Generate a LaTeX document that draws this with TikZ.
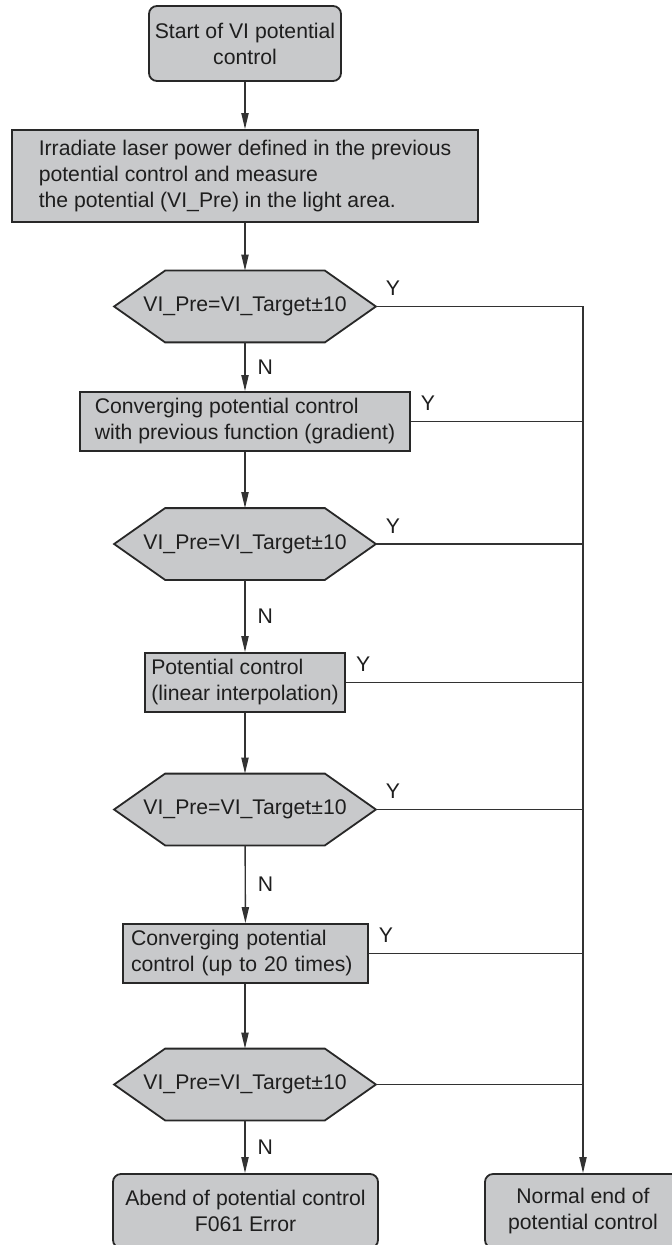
\documentclass[tikz,border=0pt]{standalone}
\usepackage{fontspec}
\setmainfont{Liberation Sans}
\usetikzlibrary{arrows.meta,backgrounds,calc}
\definecolor{boxfill}{RGB}{200,201,203}
\definecolor{edgec}{RGB}{40,40,40}
\definecolor{linec}{RGB}{50,50,50}
\definecolor{txt}{RGB}{30,30,30}
\begin{document}
\begin{tikzpicture}[x=0.5pt,y=-0.5pt,
  every node/.style={font=\fontsize{10.6}{13}\selectfont, text=txt},
  boxnode/.style={draw=edgec, fill=boxfill, line width=0.9pt, inner ysep=0pt, minimum height=29.5pt, align=left},
  endnode/.style={boxnode, rounded corners=4pt, align=center, inner xsep=0pt},
  hexnode/.style={minimum width=130.5pt, minimum height=35.5pt, inner sep=0pt},
  hexshape/.style={draw=edgec, fill=boxfill, line width=0.9pt, line join=miter},
  conn/.style={draw=linec, line width=0.7pt},
  arr/.style={conn, -{Triangle[length=8pt,width=3.6pt]}},
  nlbl/.style={pos=0.5, anchor=west, xshift=6pt, inner sep=0pt},
  ylbl/.style={inner sep=0pt}]
\useasboundingbox (0,0) rectangle (672,1245);

\node[endnode, minimum width=96pt, minimum height=37.5pt] (start) at (245,43.5) {Start of VI potential\\control};
\node[boxnode, minimum width=233pt, minimum height=46pt] (irr) at (245,176) {Irradiate laser power defined in the previous\\potential control and measure\\the potential (VI\_Pre) in the light area.};
\node[hexnode] (h1) at (245,306.5) {VI\_Pre=VI\_Target±10};
\node[boxnode, minimum width=165pt] (b2) at (245,421.5) {Converging potential control\\with previous function (gradient)};
\node[hexnode] (h2) at (245,544) {VI\_Pre=VI\_Target±10};
\node[boxnode, minimum width=100pt] (b3) at (245,682.5) {Potential control\\(linear interpolation)};
\node[hexnode] (h3) at (245,809.5) {VI\_Pre=VI\_Target±10};
\node[boxnode, text width=114.5pt, inner xsep=4pt] (b4) at (245.5,953.5) {Converging potential\\control (up to 20 times)};
\node[hexnode] (h4) at (245,1084.5) {VI\_Pre=VI\_Target±10};
\node[endnode, minimum width=132.5pt, minimum height=37pt] (abend) at (245.5,1211) {Abend of potential control\\F061 Error};
\node[endnode, minimum width=98pt, minimum height=37pt] (normal) at (583,1211) {Normal end of\\potential control};

\begin{pgfonlayer}{background}
\foreach \h in {h1,h2,h3,h4}
  \draw[hexshape] (\h.west) -- ([xshift=25.5pt]\h.north west) -- ([xshift=-25.5pt]\h.north east) -- (\h.east) -- ([xshift=-25.5pt]\h.south east) -- ([xshift=25.5pt]\h.south west) -- cycle;
\end{pgfonlayer}

\draw[arr] (start) -- (irr);
\draw[arr] (irr) -- (h1);
\draw[arr] (h1) -- node[nlbl] (n1) {N} (b2);
\draw[arr] (b2) -- (h2);
\draw[arr] (h2) -- node[nlbl] (n2) {N} (b3);
\draw[arr] (b3) -- (h3);
\draw[arr] (h3) -- node[nlbl] (n3) {N} (b4);
\draw[arr] (b4.south -| h4.north) -- (h4);
\draw[arr] (h4) -- node[nlbl] (n4) {N} (h4 |- abend.north);

\draw[arr] (h1.east) -| (normal.north);
\foreach \n in {b2,h2,b3,h3,b4,h4}
  \draw[conn] (\n.east) -- (\n.east -| normal.north);

\node[ylbl] (y1) at ([shift={(8.5pt,9pt)}]h1.east) {Y};
\node[ylbl] (y2) at ([shift={(8.5pt,9pt)}]b2.east) {Y};
\node[ylbl] (y3) at ([shift={(8.5pt,9pt)}]h2.east) {Y};
\node[ylbl] (y4) at ([shift={(8.5pt,9pt)}]b3.east) {Y};
\node[ylbl] (y5) at ([shift={(8.5pt,9pt)}]h3.east) {Y};
\node[ylbl] (y6) at ([shift={(8.5pt,9pt)}]b4.east) {Y};
\end{tikzpicture}
\end{document}
